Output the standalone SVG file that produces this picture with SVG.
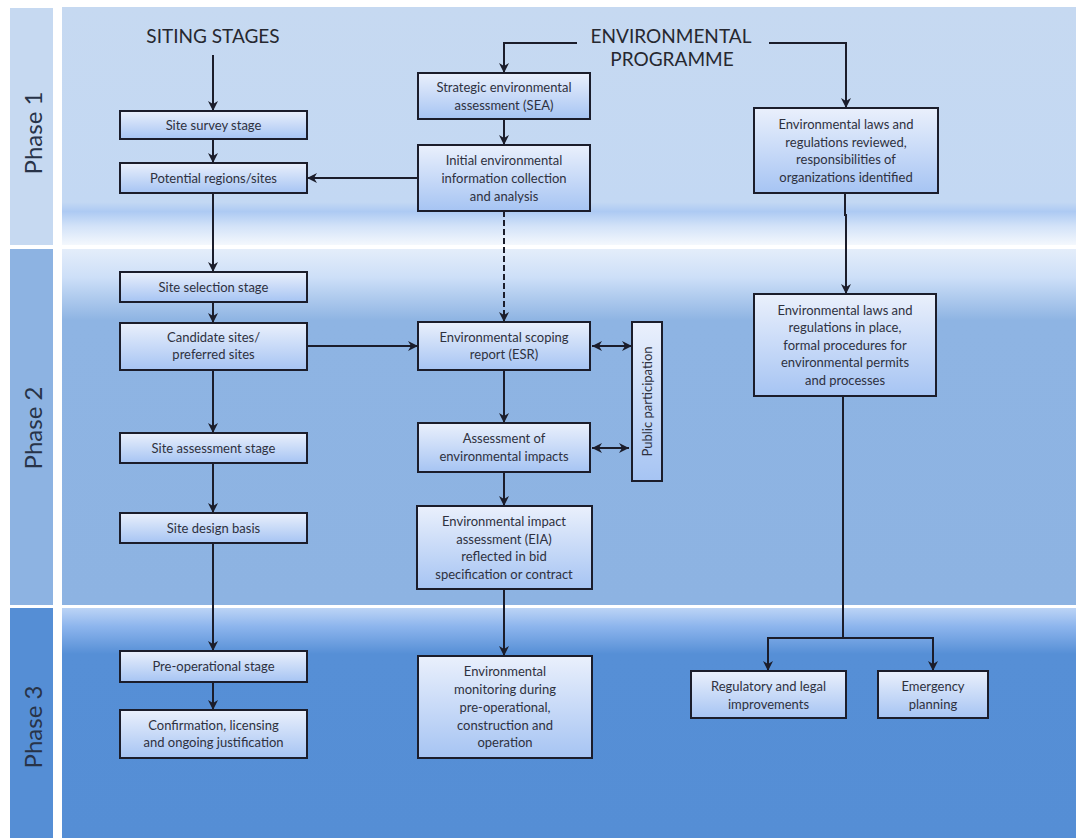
<svg xmlns="http://www.w3.org/2000/svg" width="1076" height="838" viewBox="0 0 1076 838">
  <style>
    .box { stroke: #1b1d2b; stroke-width: 2; fill: url(#boxFill); }
    .lbl { font-family: Lato, "Liberation Sans", sans-serif; font-size: 13px; fill: #2e3140; text-anchor: middle; }
    .head { font-family: Lato, "Liberation Sans", sans-serif; font-size: 19px; fill: #262830; text-anchor: middle; }
    .phase { font-family: Lato, "Liberation Sans", sans-serif; font-size: 24px; fill: #283348; text-anchor: middle; }
    .wire { fill: none; stroke: #1b1d2b; stroke-width: 2; }
    .arr { marker-end: url(#ah); }
    .dbl { marker-end: url(#ah); marker-start: url(#ah); }
    .dash { stroke-dasharray: 6 3; }
  </style>
  <defs>
    <linearGradient id="boxFill" x1="0" y1="0" x2="0" y2="1">
      <stop offset="0" stop-color="#eaf0fc"/>
      <stop offset="1" stop-color="#a6c4f3"/>
    </linearGradient>
    <linearGradient id="p1Fill" x1="0" y1="0" x2="0" y2="1">
      <stop offset="0" stop-color="#c6d9f1"/>
      <stop offset="0.82" stop-color="#c3d8f3"/>
      <stop offset="0.86" stop-color="#adcaf3"/>
      <stop offset="0.92" stop-color="#d2e2f8"/>
      <stop offset="1" stop-color="#f4f8fd"/>
    </linearGradient>
    <linearGradient id="p2Fill" x1="0" y1="0" x2="0" y2="1">
      <stop offset="0" stop-color="#e4edfa"/>
      <stop offset="0.08" stop-color="#cddff8"/>
      <stop offset="0.2" stop-color="#8eb4e3"/>
      <stop offset="1" stop-color="#8db3e2"/>
    </linearGradient>
    <linearGradient id="p3Fill" x1="0" y1="0" x2="0" y2="1">
      <stop offset="0" stop-color="#bcd4f6"/>
      <stop offset="0.08" stop-color="#8db5ed"/>
      <stop offset="0.2" stop-color="#568fd6"/>
      <stop offset="1" stop-color="#558ed5"/>
    </linearGradient>
    <marker id="ah" viewBox="0 0 10 10" markerUnits="userSpaceOnUse" markerWidth="10" markerHeight="10" refX="10" refY="5" orient="auto-start-reverse">
      <path d="M0,0 L10,5 L0,10 L3,5 z" fill="#1b1d2b"/>
    </marker>
  </defs>

  <!-- page -->
  <rect x="0" y="0" width="1076" height="838" fill="#ffffff"/>

  <!-- phase bands -->
  <g id="bands">
    <rect x="10" y="8" width="43" height="237" fill="#c6d9f1"/>
    <rect x="62" y="7" width="1014" height="238" fill="url(#p1Fill)"/>
    <rect x="10" y="249" width="43" height="356" fill="#8db3e2"/>
    <rect x="62" y="249" width="1014" height="356" fill="url(#p2Fill)"/>
    <rect x="10" y="608" width="43" height="230" fill="#558ed5"/>
    <rect x="62" y="608" width="1014" height="230" fill="url(#p3Fill)"/>
    <text class="phase" transform="translate(42,133) rotate(-90)">Phase 1</text>
    <text class="phase" transform="translate(42,428) rotate(-90)">Phase 2</text>
    <text class="phase" transform="translate(42,727) rotate(-90)">Phase 3</text>
  </g>

  <!-- column headings -->
  <g id="headings">
    <text class="head" x="213" y="43">SITING STAGES</text>
    <text class="head" x="671" y="43">ENVIRONMENTAL</text>
    <text class="head" x="672" y="66">PROGRAMME</text>
  </g>

  <!-- connectors -->
  <g id="connectors">
    <path class="wire arr" d="M213,55 V111"/>
    <path class="wire arr" d="M213,139 V163"/>
    <path class="wire arr" d="M213,193 V272"/>
    <path class="wire arr" d="M213,302 V323"/>
    <path class="wire arr" d="M213,370 V433"/>
    <path class="wire arr" d="M213,463 V513"/>
    <path class="wire arr" d="M213,543 V651"/>
    <path class="wire arr" d="M213,682 V710"/>

    <path class="wire arr" d="M577,43 H504 V73"/>
    <path class="wire arr" d="M504,119 V145"/>
    <path class="wire arr" d="M418,178 H307"/>
    <path class="wire arr dash" d="M504,211 V322"/>
    <path class="wire arr" d="M307,346 H418"/>
    <path class="wire dbl" d="M592,346 H632"/>
    <path class="wire arr" d="M504,370 V423"/>
    <path class="wire dbl" d="M592,448 H629"/>
    <path class="wire arr" d="M504,472 V506"/>
    <path class="wire arr" d="M504,589 V656"/>

    <path class="wire arr" d="M769,43 H846 V108"/>
    <path class="wire" d="M845,193 V216"/>
    <path class="wire arr" d="M846,214 V294"/>
    <path class="wire" d="M843,396 V638"/>
    <path class="wire arr" d="M843,638 H768 V671"/>
    <path class="wire arr" d="M843,638 H933 V671"/>
  </g>

  <!-- siting stages -->
  <g id="site-survey">
    <rect class="box" x="120" y="111" width="187" height="28"/>
    <text class="lbl" x="213.5" y="130">Site survey stage</text>
  </g>
  <g id="potential-sites">
    <rect class="box" x="120" y="163" width="187" height="30" stroke-width="2.5"/>
    <text class="lbl" x="213.5" y="183">Potential regions/sites</text>
  </g>
  <g id="site-selection">
    <rect class="box" x="120" y="272" width="187" height="30"/>
    <text class="lbl" x="213.5" y="292">Site selection stage</text>
  </g>
  <g id="candidate-sites">
    <rect class="box" x="120" y="323" width="187" height="47"/>
    <text class="lbl" x="213.5" y="342">Candidate sites/</text>
    <text class="lbl" x="213.5" y="359">preferred sites</text>
  </g>
  <g id="site-assessment">
    <rect class="box" x="120" y="433" width="187" height="30"/>
    <text class="lbl" x="213.5" y="453">Site assessment stage</text>
  </g>
  <g id="site-design">
    <rect class="box" x="120" y="513" width="187" height="30"/>
    <text class="lbl" x="213.5" y="533">Site design basis</text>
  </g>
  <g id="pre-operational">
    <rect class="box" x="120" y="651" width="187" height="31"/>
    <text class="lbl" x="213.5" y="671">Pre-operational stage</text>
  </g>
  <g id="confirmation">
    <rect class="box" x="120" y="710" width="187" height="48"/>
    <text class="lbl" x="213.5" y="730">Confirmation, licensing</text>
    <text class="lbl" x="213.5" y="747">and ongoing justification</text>
  </g>

  <!-- environmental programme -->
  <g id="sea">
    <rect class="box" x="418" y="73" width="172" height="46"/>
    <text class="lbl" x="504" y="92">Strategic environmental</text>
    <text class="lbl" x="504" y="110">assessment (SEA)</text>
  </g>
  <g id="initial-info">
    <rect class="box" x="418" y="145" width="172" height="66"/>
    <text class="lbl" x="504" y="165">Initial environmental</text>
    <text class="lbl" x="504" y="183">information collection</text>
    <text class="lbl" x="504" y="201">and analysis</text>
  </g>
  <g id="esr">
    <rect class="box" x="418" y="322" width="172" height="48"/>
    <text class="lbl" x="504" y="342">Environmental scoping</text>
    <text class="lbl" x="504" y="359">report (ESR)</text>
  </g>
  <g id="impact-assessment">
    <rect class="box" x="418" y="423" width="172" height="49"/>
    <text class="lbl" x="504" y="443">Assessment of</text>
    <text class="lbl" x="504" y="461">environmental impacts</text>
  </g>
  <g id="eia">
    <rect class="box" x="417" y="506" width="175" height="83"/>
    <text class="lbl" x="504" y="526">Environmental impact</text>
    <text class="lbl" x="504" y="544">assessment (EIA)</text>
    <text class="lbl" x="504" y="561">reflected in bid</text>
    <text class="lbl" x="504" y="579">specification or contract</text>
  </g>
  <g id="monitoring">
    <rect class="box" x="418" y="656" width="174" height="102"/>
    <text class="lbl" x="505" y="676">Environmental</text>
    <text class="lbl" x="505" y="694">monitoring during</text>
    <text class="lbl" x="505" y="712">pre-operational,</text>
    <text class="lbl" x="505" y="730">construction and</text>
    <text class="lbl" x="505" y="747">operation</text>
  </g>
  <g id="public-participation">
    <rect class="box" x="632" y="322" width="30" height="159"/>
    <text class="lbl" transform="translate(652,401.5) rotate(-90)">Public  participation</text>
  </g>

  <!-- regulatory framework -->
  <g id="laws-reviewed">
    <rect class="box" x="754" y="108" width="184" height="85"/>
    <text class="lbl" x="846" y="129">Environmental laws and</text>
    <text class="lbl" x="846" y="147">regulations reviewed,</text>
    <text class="lbl" x="846" y="164">responsibilities of</text>
    <text class="lbl" x="846" y="182">organizations identified</text>
  </g>
  <g id="laws-in-place">
    <rect class="box" x="754" y="294" width="182" height="102" stroke-width="2.5"/>
    <text class="lbl" x="845" y="315">Environmental laws and</text>
    <text class="lbl" x="845" y="332">regulations in place,</text>
    <text class="lbl" x="845" y="350">formal procedures for</text>
    <text class="lbl" x="845" y="367">environmental permits</text>
    <text class="lbl" x="845" y="385">and processes</text>
  </g>
  <g id="regulatory">
    <rect class="box" x="691" y="671" width="155" height="47"/>
    <text class="lbl" x="768.5" y="691">Regulatory and legal</text>
    <text class="lbl" x="768.5" y="709">improvements</text>
  </g>
  <g id="emergency">
    <rect class="box" x="878" y="671" width="110" height="47" stroke-width="2.5"/>
    <text class="lbl" x="933" y="691">Emergency</text>
    <text class="lbl" x="933" y="709">planning</text>
  </g>
</svg>
